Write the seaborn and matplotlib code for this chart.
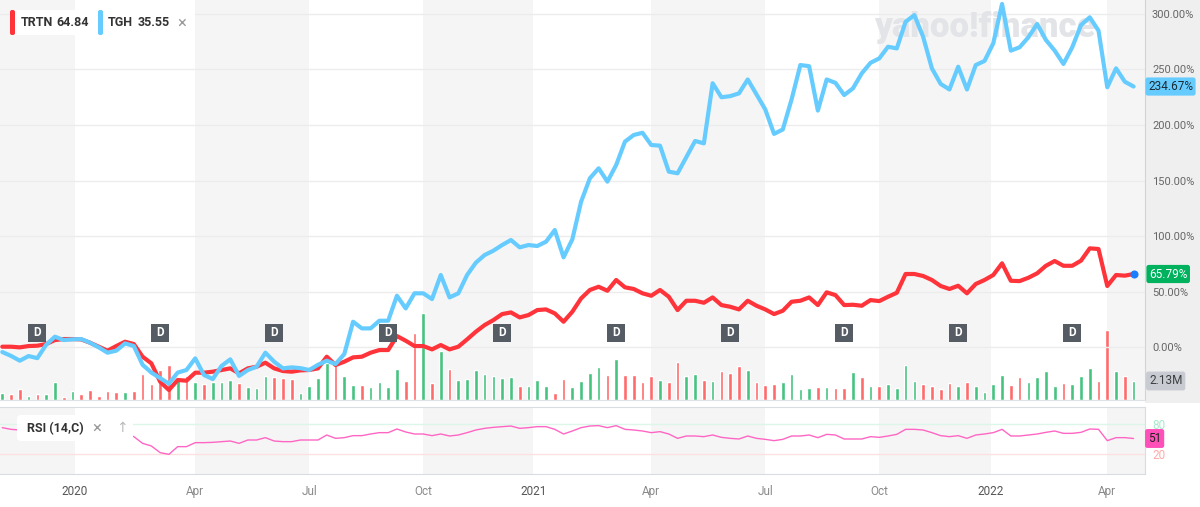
import numpy as np
import pandas as pd
import matplotlib
matplotlib.use("Agg")
import matplotlib.pyplot as plt
import matplotlib.dates as mdates
import matplotlib.transforms as mtransforms
from matplotlib.patches import FancyBboxPatch, Rectangle
import seaborn as sns

# ------------------------------
# Data (weekly points)
# ------------------------------
first_week = "2019-11-04"

trtn_pct = [0.3, 0.3, -0.3, 0.9, 1.2, 2.7, 6.3, 7.2, 7.2, 6.9,
            3.9, 0.3, -3.3, 0.9, 4.8, 2.7, -8.7, -14.7, -31.2, -38.7,
            -29.7, -30.3, -23.1, -23.1, -22.2, -20.7, -19.2, -23.7, -19.2, -17.7,
            -14.1, -19.2, -21.6, -22.2, -21.0, -20.7, -19.2, -8.7, -16.2, -13.2,
            -9.3, -8.7, -5.1, -2.7, -2.7, 9.9, 5.7, 0.9, 0.9, -2.1,
            1.8, -2.1, 0.3, 6.9, 13.8, 19.8, 24.3, 29.7, 31.2, 26.7,
            28.8, 33.3, 33.9, 30.3, 22.8, 31.8, 43.8, 51.4, 54.3, 50.7,
            60.4, 53.8, 52.3, 48.4, 46.2, 51.4, 45.3, 33.3, 41.7, 41.7,
            39.9, 44.7, 37.8, 36.3, 33.9, 41.7, 37.2, 33.9, 29.7, 32.7,
            40.8, 41.7, 44.7, 37.8, 49.3, 46.8, 37.8, 38.1, 37.2, 42.3,
            41.4, 45.3, 48.9, 65.8, 65.8, 64.0, 60.4, 55.0, 52.3, 55.2,
            48.4, 56.8, 60.4, 64.9, 75.4, 59.7, 59.4, 62.4, 66.4, 73.2,
            77.5, 73.2, 73.2, 77.8, 88.9, 88.3, 55.0, 64.9, 64.3, 65.79]

tgh_pct = [-4.5, -8.0, -12.3, -8.1, -10.0, 2.0, 9.3, 6.3, 6.9, 7.2,
           3.9, -0.3, -5.1, -3.3, 3.3, 0.9, -16.0, -23.0, -28.0, -33.0,
           -23.0, -20.7, -10.2, -25.2, -28.8, -17.0, -11.1, -26.0, -20.7, -17.7,
           -5.1, -13.2, -19.2, -18.3, -19.0, -20.7, -16.0, -12.3, -15.3, -6.3,
           22.8, 16.8, 16.8, 23.7, 23.7, 46.2, 34.8, 48.4, 48.4, 43.2,
           64.9, 44.7, 48.4, 64.9, 76.0, 82.9, 86.8, 91.9, 96.4, 89.8,
           91.9, 91.0, 94.9, 105.4, 80.8, 97.0, 130.9, 152.0, 161.0, 149.0,
           164.0, 185.0, 191.0, 193.0, 182.0, 181.4, 158.0, 156.5, 171.0, 185.6,
           183.5, 237.6, 225.0, 226.0, 228.5, 241.0, 227.6, 214.0, 192.0, 196.0,
           223.0, 254.0, 253.0, 213.0, 241.0, 238.0, 227.0, 233.0, 246.5, 256.0,
           260.0, 270.5, 269.0, 293.0, 299.0, 279.5, 251.0, 237.0, 232.0, 252.5,
           232.0, 254.0, 257.7, 273.6, 309.0, 267.0, 270.0, 279.0, 291.0, 276.6,
           267.0, 255.0, 270.0, 290.0, 297.0, 285.0, 234.0, 251.0, 239.0, 234.67]

# TRTN weekly volume in millions, G = up week, R = down week
volume_m = [0.75, 0.64, 1.20, 0.48, 0.64, 0.64, 2.05, 0.30, 1.01, 0.64,
            1.12, 0.48, 1.01, 0.86, 0.86, 1.01, 2.91, 1.79, 3.36, 3.92,
            2.61, 2.69, 2.05, 1.79, 2.05, 2.05, 2.24, 1.94, 1.42, 1.31,
            2.69, 2.54, 2.43, 2.35, 0.75, 1.60, 2.43, 4.18, 3.92, 2.69,
            1.68, 1.68, 1.42, 2.05, 1.42, 3.48, 2.13, 7.54, 9.72, 1.87,
            5.49, 3.44, 2.24, 2.32, 3.36, 2.91, 2.72, 2.43, 2.54, 1.57,
            1.60, 2.24, 1.57, 0.75, 2.32, 1.42, 2.13, 3.06, 3.73, 2.80,
            4.60, 2.80, 2.80, 2.05, 2.69, 2.24, 2.05, 4.29, 2.69, 2.91,
            2.24, 2.13, 3.25, 3.06, 3.81, 3.36, 2.05, 1.68, 1.79, 2.05,
            2.91, 1.20, 1.31, 1.42, 1.42, 1.31, 1.31, 3.17, 2.54, 1.57,
            1.57, 1.76, 1.31, 3.92, 2.13, 1.76, 1.57, 1.20, 1.87, 1.57,
            1.98, 1.57, 0.86, 1.76, 2.80, 1.68, 2.54, 2.05, 2.54, 3.25,
            1.57, 1.94, 1.76, 2.69, 3.62, 2.13, 7.85, 3.25, 2.69, 2.13]
volume_dir = ("GRRGRGGRGRRRRRGRRRRRGRGRGGGRGGGRRRGGGGRGGRGGGG"
              "RRGRGRGGGGGGGRGGGRRGGGGRGRRRRGRRGGRGRRRGRRRGG"
              "GGRGRRGRGRGGGGRRRRGRGGGGRRGGGGRGGGRRGRG")

# RSI(14) weekly; the first weeks sit under the indicator label
rsi_vals = [72.7, 69.3, 68, 66, 66, 67, 70, 70, 70, 68,
            64, 60, 62, 64, 62, 54.7, 41.3, 36, 22.7, 19.3,
            34.7, 34.7, 42.7, 42.7, 43.3, 44.7, 46, 41.3, 48, 48,
            52.7, 46, 44.7, 44.7, 48, 48, 48, 58, 51.3, 52.7,
            56.7, 56.7, 60, 62.7, 62.7, 70, 64, 60, 60, 56.7,
            60, 56, 58, 62.7, 68, 71.3, 73.3, 74.7, 76, 71.3,
            72.7, 74.7, 74.7, 69.3, 60, 66, 72.7, 76, 76.7, 72.7,
            76.7, 69.3, 68, 66, 62.7, 64.7, 60, 51.3, 56, 56,
            54.7, 58, 53.3, 51.3, 50, 56, 51.3, 49.3, 46.7, 49.3,
            56, 56, 58, 52.7, 59.3, 58, 50, 50, 50, 54.7,
            53.3, 56, 59.3, 69.3, 69.3, 68, 62.7, 56.7, 54.7, 56.7,
            51.3, 58, 60, 62.7, 69.3, 56, 56, 58, 60, 63.3,
            66, 61.3, 61.3, 63.3, 70, 69.3, 46.7, 52.7, 52.7, 51]

div_dates = ["2019-12-02", "2020-03-09", "2020-06-08", "2020-09-07", "2020-12-07",
             "2021-03-08", "2021-06-07", "2021-09-06", "2021-12-06", "2022-03-07"]

quarter_dates = ["2020-01-01", "2020-04-01", "2020-07-01", "2020-10-01", "2021-01-01",
                 "2021-04-01", "2021-07-01", "2021-10-01", "2022-01-01", "2022-04-01"]
quarter_labels = ["2020", "Apr", "Jul", "Oct", "2021", "Apr", "Jul", "Oct", "2022", "Apr"]

pct_ticks = [0, 50, 100, 150, 200, 250, 300]
rsi_ticks = [80, 20]

legend_names = ["TRTN", "TGH"]
legend_prices = ["64.84", "35.55"]

# ------------------------------
# Colours
# ------------------------------
RED = "#ff333a"
BLUE = "#66ccff"
VOL_UP = "#45c37f"
VOL_DOWN = "#ff6b6b"
BAND = "#f5f5f5"
RSI_COL = "#ff66c4"

sns.set_style("white")
plt.rcParams["font.family"] = ["Roboto", "DejaVu Sans"]

# ------------------------------
# Week index axis (Yahoo spaces the bars evenly)
# ------------------------------
weeks = pd.date_range(first_week, periods=len(trtn_pct), freq="7D")
idx = np.arange(len(weeks))
df = pd.DataFrame({"week": idx, "TRTN": trtn_pct, "TGH": tgh_pct,
                   "vol": volume_m, "rsi": rsi_vals})


def week_pos(dates):
    num = mdates.date2num(pd.to_datetime(dates))
    return np.interp(num, mdates.date2num(weeks), idx)


# year ticks sit on the date, month ticks snap to the first bar of the month
tick_pos = [p if d.endswith("01-01") else np.ceil(p)
            for p, d in zip(week_pos(quarter_dates), quarter_dates)]
div_pos = week_pos(div_dates)

W, H = 1200, 507
fig = plt.figure(figsize=(W / 100, H / 100), dpi=100)
fig.patch.set_facecolor("white")
pix = mtransforms.Affine2D().scale(1 / W, -1 / H).translate(0, 1) + fig.transFigure


def frect(x0, y0, x1, y1):
    return [x0 / W, 1 - y1 / H, (x1 - x0) / W, (y1 - y0) / H]


def px_box(x0, y0, x1, y1, color, r=3, z=6):
    p = FancyBboxPatch((x0, y0), x1 - x0, y1 - y0, transform=pix,
                       boxstyle=f"round,pad=0,rounding_size={r}",
                       fc=color, ec="none", zorder=z)
    fig.add_artist(p)


x_left, x_right = -0.26, 130.3

# grey strip behind the price scale
fig.add_artist(Rectangle((1145, 0), 55, 403, transform=pix, fc="#efefef", ec="none", zorder=-1))

ax_bg = fig.add_axes(frect(0, 0, 1145, 400))
ax = fig.add_axes(frect(0, 0, 1145, 400), sharex=ax_bg)
ax_rsi = fig.add_axes(frect(0, 407, 1145, 474), sharex=ax_bg)

# ------------------------------
# Quarter bands
# ------------------------------
band_edges = [x_left] + tick_pos + [x_right]
for a in (ax_bg, ax_rsi):
    for k in range(0, len(band_edges) - 1, 2):
        a.axvspan(band_edges[k], band_edges[k + 1], color=BAND, lw=0, zorder=0)

# ------------------------------
# Volume bars
# ------------------------------
bar_colors = [VOL_UP if c == "G" else VOL_DOWN for c in volume_dir]
ax_bg.bar(df["week"], df["vol"], width=0.42, color=bar_colors, zorder=1)
ax_bg.set_ylim(0, 44.8)
ax_bg.set_xlim(x_left, x_right)
ax_bg.axis("off")
ax_bg.text(1 + 4 / 1145, volume_m[-1], "2.13M",
           transform=mtransforms.blended_transform_factory(ax_bg.transAxes, ax_bg.transData),
           ha="left", va="center", fontsize=8.5, color="#3c4043", clip_on=False, zorder=8,
           bbox=dict(boxstyle="round,pad=0.25,rounding_size=0.2", fc="#c8ccd2", ec="none"))

# ------------------------------
# Price lines
# ------------------------------
ax.patch.set_visible(False)

# yahoo watermark, under the lines
ax.text(985, 27, "yahoo!finance", transform=pix, ha="center", va="center",
        fontsize=25, fontweight="heavy", color="#e2e4e8", zorder=1)

sns.lineplot(data=df, x="week", y="TRTN", ax=ax, color=RED, linewidth=3,
             solid_joinstyle="round", zorder=3)
sns.lineplot(data=df, x="week", y="TGH", ax=ax, color=BLUE, linewidth=3,
             solid_joinstyle="round", zorder=3)
ax.scatter([idx[-1]], [trtn_pct[-1]], s=34, color="#1a7fff", zorder=5, linewidths=0)

ax.set_ylim(-47.7, 312.6)
ax.set_xlim(x_left, x_right)
ax.set_xlabel("")
ax.set_ylabel("")
ax.set_yticks(pct_ticks)
ax.set_yticklabels([f"{v:.2f}%" for v in pct_ticks])
ax.yaxis.tick_right()
ax.tick_params(axis="y", length=0, pad=5, labelsize=8, labelcolor="#666666")
ax.tick_params(axis="x", bottom=False, labelbottom=False)
ax.yaxis.grid(True, color="#ececec", lw=1)
ax.set_axisbelow(True)
for s in ("left", "top"):
    ax.spines[s].set_visible(False)
ax.spines["right"].set_color("#cfd4da")
ax.spines["bottom"].set_color("#dde2e8")

# dividend markers
dx = mtransforms.blended_transform_factory(ax.transData, ax.transAxes)
ax.scatter(div_pos, [0.1675] * len(div_pos), transform=dx, marker="s", s=165,
           color="#565c64", zorder=6, linewidths=0)
for p in div_pos:
    ax.text(p, 0.1675, "D", transform=dx, ha="center", va="center", color="white",
            fontsize=8.5, fontweight="bold", zorder=7)

# last value tags
ty = mtransforms.blended_transform_factory(ax.transAxes, ax.transData)
ax.text(1 + 3 / 1145, tgh_pct[-1], f"{tgh_pct[-1]:.2f}%", transform=ty, ha="left", va="center",
        fontsize=8.5, color="#1c2a36", clip_on=False, zorder=8,
        bbox=dict(boxstyle="round,pad=0.22,rounding_size=0.2", fc=BLUE, ec="none"))
ax.text(1 + 4 / 1145, trtn_pct[-1], f"{trtn_pct[-1]:.2f}%", transform=ty, ha="left", va="center",
        fontsize=8.5, color="white", clip_on=False, zorder=8,
        bbox=dict(boxstyle="round,pad=0.22,rounding_size=0.2", fc="#00b15d", ec="none"))

# ------------------------------
# RSI panel
# ------------------------------
ax_rsi.axhline(80, color="#dcf6ea", lw=1, zorder=1)
ax_rsi.axhline(20, color="#fde1e1", lw=1, zorder=1)
sns.lineplot(data=df, x="week", y="rsi", ax=ax_rsi, color=RSI_COL, linewidth=1, zorder=3)
ax_rsi.set_ylim(-20, 114)
ax_rsi.set_xlim(x_left, x_right)
ax_rsi.set_xlabel("")
ax_rsi.set_ylabel("")
ax_rsi.yaxis.tick_right()
ax_rsi.set_yticks(rsi_ticks)
ax_rsi.set_yticklabels([str(v) for v in rsi_ticks])
ax_rsi.tick_params(axis="y", length=0, pad=5, labelsize=8.5)
for lab, c in zip(ax_rsi.get_yticklabels(), ["#a9e9cc", "#ffaaaa"]):
    lab.set_color(c)
ax_rsi.set_xticks(tick_pos)
ax_rsi.set_xticklabels(quarter_labels)
ax_rsi.tick_params(axis="x", length=3, color="#c9ced4", pad=5, labelsize=8.5)
for lab in ax_rsi.get_xticklabels():
    lab.set_color("#555555" if lab.get_text().isdigit() else "#8a8a8a")
ax_rsi.spines["left"].set_visible(False)
for s in ("top", "bottom", "right"):
    ax_rsi.spines[s].set_color("#d9dde2")
ax_rsi.text(1 + 3 / 1145, rsi_vals[-1], f"{rsi_vals[-1]:.0f}",
            transform=mtransforms.blended_transform_factory(ax_rsi.transAxes, ax_rsi.transData),
            ha="left", va="center", fontsize=8.5, color="#222222", clip_on=False, zorder=8,
            bbox=dict(boxstyle="round,pad=0.25,rounding_size=0.2", fc="#ff4fb8", ec="none"))

# indicator label
px_box(17, 415, 133, 441, "white", r=4, z=6)
fig.text(27, 428.5, "RSI (14,C)", transform=pix, ha="left", va="center",
         fontsize=9, fontweight="bold", color="#333333", zorder=7)
fig.text(97, 428, "\u00d7", transform=pix, ha="center", va="center",
         fontsize=12, color="#9a9a9a", zorder=7)
fig.text(122, 428, "\u2191", transform=pix, ha="center", va="center",
         fontsize=10, color="#bbbbbb", zorder=7)

# ------------------------------
# Legend chips
# ------------------------------
px_box(10, 10, 195, 35, "white", r=3, z=6)
px_box(10, 10, 15, 35, RED, r=2, z=7)
px_box(98, 10, 103, 35, BLUE, r=2, z=7)
for x_name, x_price, name, price in zip([21, 108], [56, 138], legend_names, legend_prices):
    fig.text(x_name, 23, name, transform=pix, ha="left", va="center",
             fontsize=9, fontweight="bold", color="#333333", zorder=8)
    fig.text(x_price, 23, price, transform=pix, ha="left", va="center",
             fontsize=9, fontweight="bold", color="#333333", zorder=8)
fig.text(182, 23, "\u00d7", transform=pix, ha="center", va="center",
         fontsize=12, color="#9a9a9a", zorder=8)

fig.savefig("out.png", dpi=100)
